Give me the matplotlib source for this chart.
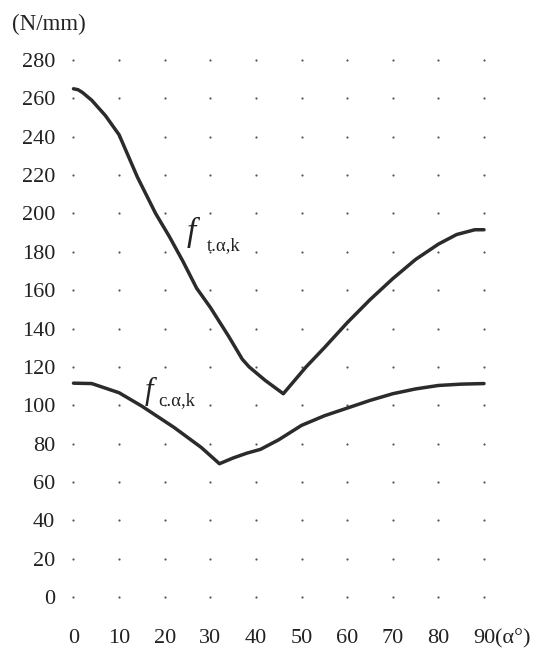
import matplotlib.pyplot as plt
import numpy as np

plt.rcParams['font.family'] = ['Liberation Serif', 'DejaVu Serif']

# strength along the grain angle alpha (degrees), N/mm
alpha_t = [0, 1, 2, 4, 7, 10, 14, 18, 21, 24, 27, 30, 34, 37, 38.5, 42, 46,
           51, 55, 60, 65, 70, 75, 80, 84, 88, 90]
f_t = [265, 264.5, 263, 259, 251, 241, 219, 200, 188, 175, 161, 151, 136, 124, 120, 113, 106,
       120, 130, 143, 155, 166, 176, 184, 189, 191.5, 191.5]

alpha_c = [0, 4, 10, 15, 22, 28, 32, 35, 38, 41, 45, 50, 55, 60, 65, 70, 75, 80, 85, 90]
f_c = [111.5, 111.3, 106.5, 99.5, 88.5, 78, 69.5, 72.5, 75, 77, 82, 89.5, 94.5, 98.5,
       102.5, 106, 108.5, 110.3, 111, 111.3]

x_ticks = [0, 10, 20, 30, 40, 50, 60, 70, 80, 90]
y_ticks = [0, 20, 40, 60, 80, 100, 120, 140, 160, 180, 200, 220, 240, 260, 280]

fig = plt.figure(figsize=(5.4, 6.5), dpi=100)
ax = fig.add_axes([0.1361, 0.0815, 0.7602, 0.8262])

# dotted grid: one dot per tick intersection
gx, gy = np.meshgrid(x_ticks, y_ticks)
ax.scatter(gx.ravel(), gy.ravel(), s=2.5, color='#555555', linewidths=0, clip_on=False, zorder=1)

ax.plot(alpha_t, f_t, color='#2b2b2b', lw=2.5, solid_capstyle='round', solid_joinstyle='round',
        clip_on=False, zorder=3)
ax.plot(alpha_c, f_c, color='#2b2b2b', lw=2.5, solid_capstyle='round', solid_joinstyle='round',
        clip_on=False, zorder=3)

# curve labels: italic f with an upright subscript
ax.text(24.8, 185.6, 'f', fontsize=24, style='italic', color='#222222', va='baseline')
ax.text(29.3, 180.9, 't.α,k', fontsize=13.5, color='#222222', va='baseline')
ax.text(15.5, 103, 'f', fontsize=22, style='italic', color='#222222', va='baseline')
ax.text(18.6, 100.1, 'c.α,k', fontsize=13.5, color='#222222', va='baseline')

ax.set_xlim(0, 90)
ax.set_ylim(0, 280)
ax.set_xticks(x_ticks)
ax.set_yticks(y_ticks)
ax.tick_params(axis='both', length=0, labelsize=16, colors='#222222')
ax.tick_params(axis='y', pad=13.3)
ax.tick_params(axis='x', pad=23.0)
for s in ax.spines.values():
    s.set_visible(False)

ax.annotate('(α°)', xy=(90, 0), xycoords='data', xytext=(8.0, -23.0),
            textcoords='offset points', ha='left', va='top', fontsize=16, color='#222222',
            annotation_clip=False)
fig.text(12 / 540, 1 - 24 / 650, '(N/mm)', fontsize=16.5, color='#222222', va='center', ha='left')

plt.savefig('out.png', dpi=100)
